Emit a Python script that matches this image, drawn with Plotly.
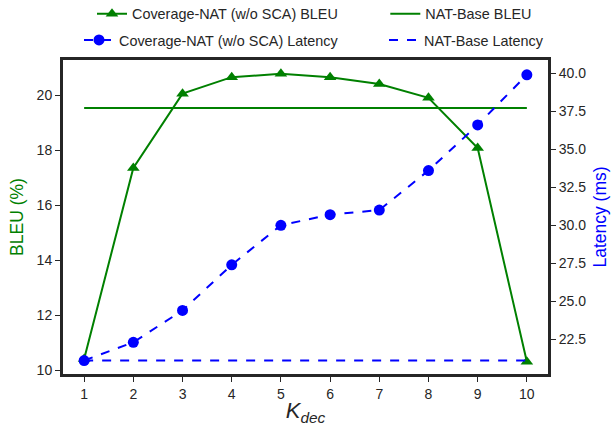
import plotly.graph_objects as go

k_dec = [1, 2, 3, 4, 5, 6, 7, 8, 9, 10]
cov_bleu = [10.4, 17.35, 20.05, 20.65, 20.77, 20.65, 20.4, 19.9, 18.07, 10.3]
base_bleu = [19.53] * 10
cov_latency = [21.1, 22.3, 24.4, 27.4, 30.0, 30.7, 31.0, 33.6, 36.6, 39.9]
base_latency = [21.1] * 10

GREEN = "#008000"
BLUE = "#0000ff"
FRAME = "#262626"
FONT = "Liberation Sans, Arial, sans-serif"

fig = go.Figure()
fig.add_trace(go.Scatter(x=k_dec, y=cov_bleu, mode="lines+markers",
                         name="Coverage-NAT (w/o SCA) BLEU", legend="legend",
                         line=dict(color=GREEN, width=2),
                         marker=dict(symbol="triangle-up", size=11, color=GREEN)))
fig.add_trace(go.Scatter(x=k_dec, y=base_bleu, mode="lines",
                         name="NAT-Base BLEU", legend="legend2",
                         line=dict(color=GREEN, width=2)))
fig.add_trace(go.Scatter(x=k_dec, y=cov_latency, mode="lines+markers",
                         name="Coverage-NAT (w/o SCA) Latency", legend="legend3",
                         line=dict(color=BLUE, width=2, dash="dash"),
                         marker=dict(symbol="circle", size=11, color=BLUE),
                         yaxis="y2"))
fig.add_trace(go.Scatter(x=k_dec, y=base_latency, mode="lines",
                         name="NAT-Base Latency", legend="legend4",
                         line=dict(color=BLUE, width=2, dash="dash"),
                         yaxis="y2"))

def axis_common():
    return dict(showline=True, linecolor=FRAME, linewidth=2,
                ticks="outside", ticklen=5, tickwidth=1, tickcolor=FRAME,
                showgrid=False, zeroline=False,
                tickfont=dict(family=FONT, size=14, color="#262626"))

def leg(x, y, anchor="left"):
    return dict(x=x, y=y, orientation="h", xanchor=anchor, yanchor="middle",
                font=dict(family=FONT, size=14.4, color="#262626"),
                bgcolor="rgba(0,0,0,0)", visible=True)

fig.update_layout(
    width=611, height=428, showlegend=True,
    margin=dict(l=62, r=62, t=59, b=53, autoexpand=False),
    paper_bgcolor="white", plot_bgcolor="white",
    font=dict(family=FONT, color="#262626"),
    xaxis=dict(range=[0.55, 10.45], tickmode="array", tickvals=k_dec,
               title=dict(text="<i>K</i><sub><i>dec</i></sub>", font=dict(family=FONT, size=22), standoff=2),
               mirror=True, **axis_common()),
    yaxis=dict(range=[9.82, 21.31], tickmode="array", tickvals=[10, 12, 14, 16, 18, 20],
               title=dict(text="BLEU (%)", font=dict(family=FONT, size=17.5, color=GREEN), standoff=8),
               **axis_common()),
    yaxis2=dict(range=[20.15, 40.94], overlaying="y", side="right",
                tickmode="array", tickvals=[22.5, 25, 27.5, 30, 32.5, 35, 37.5, 40],
                ticktext=["22.5", "25.0", "27.5", "30.0", "32.5", "35.0", "37.5", "40.0"],
                title=dict(text="Latency (ms)", font=dict(family=FONT, size=17.5, color=BLUE), standoff=8),
                **axis_common()),
    legend=leg(0.0616, 1.143),
    legend2=leg(0.976, 1.143, "right"),
    legend3=leg(0.0349, 1.06),
    legend4=leg(1.0, 1.06, "right"),
)
fig.add_shape(type="rect", xref="paper", yref="paper", x0=0, y0=0, x1=1, y1=1,
              line=dict(color=FRAME, width=2))

fig.write_html("out.html", config={"displayModeBar": False},
               post_script="document.body.style.margin='0';document.body.style.padding='0';")
